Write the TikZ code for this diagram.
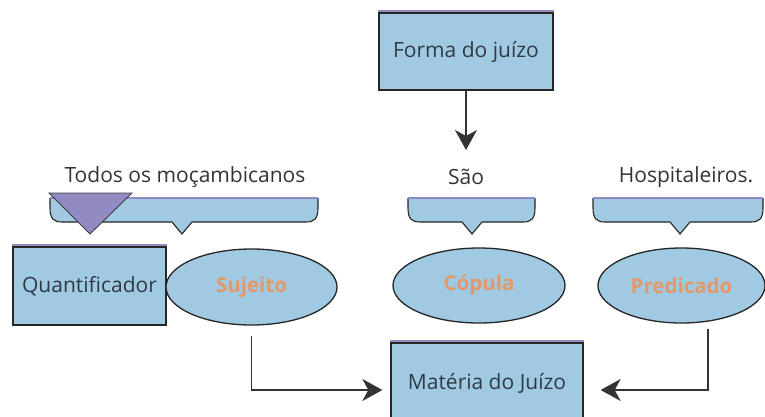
\documentclass[tikz,border=0pt]{standalone}
\usepackage{fontspec}
\setmainfont{Open Sans}
\usetikzlibrary{arrows.meta,shapes.geometric}

\definecolor{boxblue}{RGB}{160,202,226}
\definecolor{inkgray}{RGB}{48,58,70}
\definecolor{termorange}{RGB}{228,152,106}
\definecolor{quantpurple}{RGB}{146,138,194}

\begin{document}
\begin{tikzpicture}
  [x=1pt,y=-1pt,
   box/.style={draw=black!85,line width=1.3pt,fill=boxblue,text=inkgray,
     inner sep=0pt,font=\fontsize{21}{24}\selectfont},
   term/.style={ellipse,draw=black!85,line width=1.3pt,fill=boxblue,
     text=termorange,inner sep=0pt,font=\bfseries\fontsize{20.5}{24}\selectfont},
   word/.style={text=black!80,inner sep=0pt,font=\fontsize{21}{24}\selectfont},
   brace/.style={fill=boxblue,draw=black!85,line width=1.1pt},
   conn/.style={-{Stealth[length=20pt,width=22pt,inset=6pt]},line width=1.3pt,black!80}]

  \useasboundingbox (0,0) rectangle (765,417);

  % boxes and terms
  \node[box,minimum width=174pt,minimum height=77pt] (forma)     at (466,51.5) {Forma do juízo};
  \node[box,minimum width=153pt,minimum height=78pt] (quant)     at (89.5,286) {Quantificador};
  \node[term,minimum width=171pt,minimum height=76pt] (sujeito)  at (251.5,287) {Sujeito};
  \node[term,minimum width=172pt,minimum height=75pt] (copula)   at (479,285.5) {Cópula};
  \node[term,minimum width=167pt,minimum height=75pt] (predicado) at (681.5,285.5) {Predicado};
  \node[box,minimum width=192pt,minimum height=80pt] (materia)   at (487,383) {Matéria do Juízo};

  % purple edge on top of the boxes
  \foreach \b in {forma,quant,materia}
    \draw[quantpurple,line width=1.5pt]
      ([yshift=1.5pt]\b.north west) -- ([yshift=1.5pt]\b.north east);

  % sentence
  \node[word] (todos)  at (185,177) {Todos os moçambicanos};
  \node[word] (sao)    at (466,177) {São};
  \node[word] (hosp)   at (686,177) {Hospitaleiros.};

  % braces under the words
  \foreach \l/\r/\p in {50/318/182, 408/535/472, 593/763/680} {
    \draw[brace] (\l,198) -- (\l,208) .. controls (\l,219) and (\l+4,222) .. (\l+12,222)
      -- (\p-10,222) -- (\p,234) -- (\p+10,222) -- (\r-12,222)
      .. controls (\r-4,222) and (\r,219) .. (\r,208) -- (\r,198);
    \draw[quantpurple,line width=2pt] (\l,198) -- (\r,198);
  }
  \draw[fill=quantpurple,draw=black!75,line width=0.9pt]
    (49,193) -- (132,193) -- (90,234) -- cycle;

  % connectors
  \coordinate (copula top) at (466,150);
  \draw[conn] (forma) -- (copula top);
  \draw[conn,shorten <=10pt,shorten >=8pt] (sujeito.south) |- ([yshift=-7pt]materia.west);
  \draw[conn,shorten <=5pt,shorten >=17pt] ([xshift=26.5pt]predicado.south) |- ([yshift=-7pt]materia.east);
\end{tikzpicture}
\end{document}
